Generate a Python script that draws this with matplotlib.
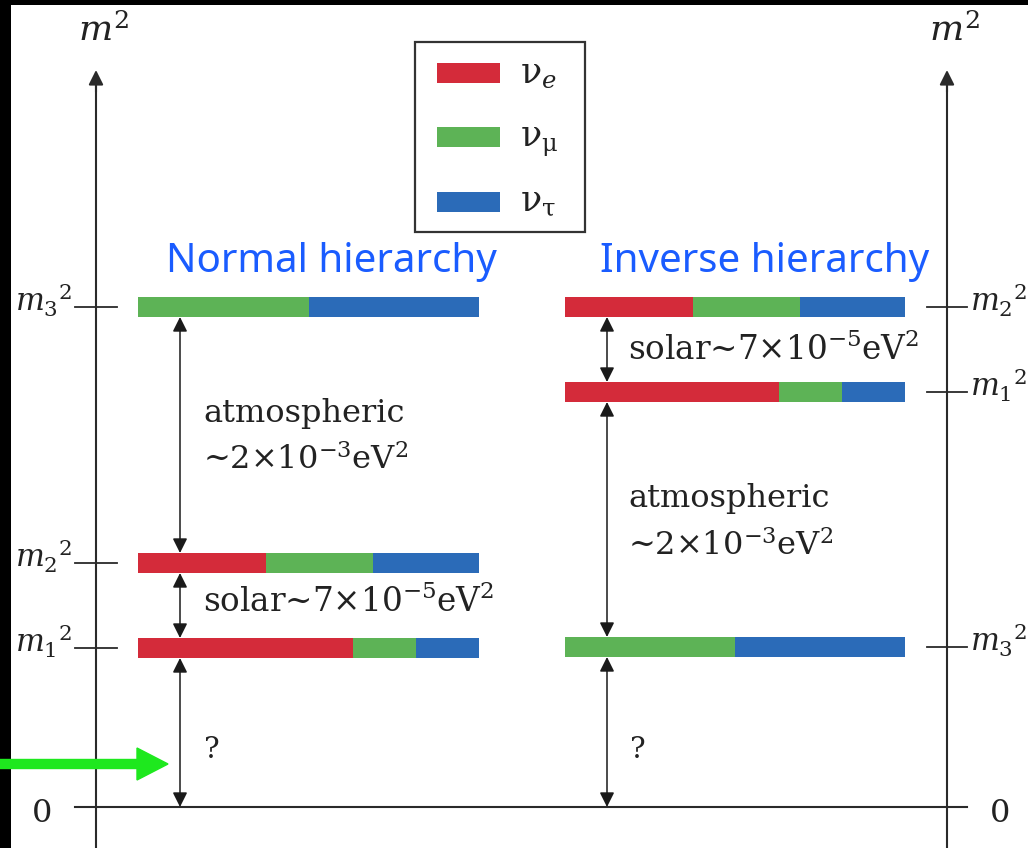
import matplotlib
matplotlib.use("Agg")
import matplotlib.pyplot as plt
from matplotlib.patches import Rectangle

# ---------------- data ----------------
flavors = [r"ν$_e$", r"ν$_{\mathrm{\mu}}$", r"ν$_{\mathrm{\tau}}$"]
flavor_colors = ["#d42b3a", "#5db356", "#2b6bb8"]

# flavour content (nu_e, nu_mu, nu_tau) of each mass state
mix_m1 = [0.63, 0.185, 0.185]
mix_m2 = [0.375, 0.315, 0.31]
mix_m3 = [0.0, 0.50, 0.50]

state_labels = [r"$m_1{}^2$", r"$m_2{}^2$", r"$m_3{}^2$"]
# m^2 levels (arbitrary units)
normal_levels = [159, 244, 500]
inverse_levels = [415, 500, 160]

titles = ["Normal hierarchy", "Inverse hierarchy"]
atm_text = ["atmospheric", r"~2×10$^{-3}$eV$^2$"]
solar_text = r"solar~7×10$^{-5}$eV$^2$"

# ---------------- figure ----------------
plt.rcParams["mathtext.fontset"] = "dejavuserif"
plt.rcParams["font.family"] = ["DejaVu Serif"]

fig = plt.figure(figsize=(10.28, 8.48), dpi=100)
ax = fig.add_axes([0, 0, 1, 1])
ax.set_xlim(0, 1028)
ax.set_ylim(-41, 807)
ax.axis("off")

dark = "#2a2a2a"
bar_h = 20
mixes = [mix_m1, mix_m2, mix_m3]

def draw_state(x0, width, level, mix):
    left = x0
    for frac, col in zip(mix, flavor_colors):
        if frac > 0:
            ax.barh(level, frac * width, left=left, height=bar_h, color=col,
                    edgecolor="none", zorder=3)
        left += frac * width

# bars
for lvl, mix in zip(normal_levels, mixes):
    draw_state(138, 341, lvl, mix)
for lvl, mix in zip(inverse_levels, mixes):
    draw_state(565, 340, lvl, mix)

# vertical axes with arrow heads
for xa in (96, 947):
    ax.plot([xa, xa], [-41, 725], color=dark, lw=1.5, zorder=2)
    ax.annotate("", xy=(xa, 737), xytext=(xa, 715),
                arrowprops=dict(arrowstyle="-|>", color=dark, lw=1.5,
                                mutation_scale=22, shrinkA=0, shrinkB=0))
    ax.text(xa + 8, 766, r"$m^2$", fontsize=26, ha="center", va="baseline",
            color="#222222")

# zero line
ax.plot([75, 967], [0, 0], color=dark, lw=1.5, zorder=2)
ax.text(42, -7, "0", fontsize=23, ha="center", va="center", color="#222222")
ax.text(1000, -7, "0", fontsize=23, ha="center", va="center", color="#222222")

# ticks and tick labels
for lvl, lab in zip(normal_levels, state_labels):
    ax.plot([75, 117], [lvl, lvl], color=dark, lw=1.3, zorder=2)
    ax.text(72, lvl - 5, lab, fontsize=22, ha="right", va="baseline",
            color="#222222")
for lvl, lab in zip(inverse_levels, state_labels):
    ax.plot([927, 967], [lvl, lvl], color=dark, lw=1.3, zorder=2)
    ax.text(970, lvl - 5, lab, fontsize=22, ha="left", va="baseline",
            color="#222222")

# double arrows
def dbl(x, y1, y2):
    ax.annotate("", xy=(x, y2), xytext=(x, y1),
                arrowprops=dict(arrowstyle="<|-|>", color="#1a1a1a", lw=1.1,
                                mutation_scale=22, shrinkA=0, shrinkB=0),
                zorder=4)

half = bar_h / 2
nl = normal_levels
il = inverse_levels
dbl(180, nl[2] - half, nl[1] + half)
dbl(180, nl[1] - half, nl[0] + half)
dbl(180, nl[0] - half, 0)
dbl(607, il[1] - half, il[0] + half)
dbl(607, il[0] - half, il[2] + half)
dbl(607, il[2] - half, 0)

# annotations
txt_col = "#222222"
ax.text(203, 385, atm_text[0], fontsize=23, ha="left", va="baseline", color=txt_col)
ax.text(203, 338, atm_text[1], fontsize=23, ha="left", va="baseline", color=txt_col)
ax.text(203, 195, solar_text, fontsize=23.5, ha="left", va="baseline", color=txt_col)
ax.text(628, 300, atm_text[0], fontsize=23, ha="left", va="baseline", color=txt_col)
ax.text(628, 252, atm_text[1], fontsize=23, ha="left", va="baseline", color=txt_col)
ax.text(628, 447, solar_text, fontsize=23.5, ha="left", va="baseline", color=txt_col)
ax.text(212, 49, "?", fontsize=21, ha="center", va="baseline", color=txt_col)
ax.text(638, 49, "?", fontsize=21, ha="center", va="baseline", color=txt_col)

# hierarchy titles
ax.text(331, 545, titles[0], fontsize=29, ha="center", va="center",
        color="#1a5cff", family=["Noto Sans"])
ax.text(765, 545, titles[1], fontsize=29, ha="center", va="center",
        color="#1a5cff", family=["Noto Sans"])

# legend box
ax.add_patch(Rectangle((415, 575), 170, 190, facecolor="white",
                       edgecolor="#333333", lw=1.6, zorder=3))
leg_y = [734, 670, 605]
for yy, col, lab in zip(leg_y, flavor_colors, flavors):
    ax.add_patch(Rectangle((437, yy - 10), 63, 20, facecolor=col,
                           edgecolor="none", zorder=4))
    ax.text(520, yy - 9, lab, fontsize=25, ha="left", va="baseline",
            color="#222222", zorder=4)

# black border (left and top)
ax.add_patch(Rectangle((0, 0), 0.0105, 1, transform=ax.transAxes,
                       facecolor="black", edgecolor="none", zorder=5))
ax.add_patch(Rectangle((0, 0.9942), 1, 0.0058, transform=ax.transAxes,
                       facecolor="black", edgecolor="none", zorder=5))

# green pointer arrow
ax.arrow(0, 43, 168, 0, width=9, head_width=32, head_length=31,
         length_includes_head=True, color="#1ee81e", zorder=6)

fig.savefig("out.png", dpi=100)
